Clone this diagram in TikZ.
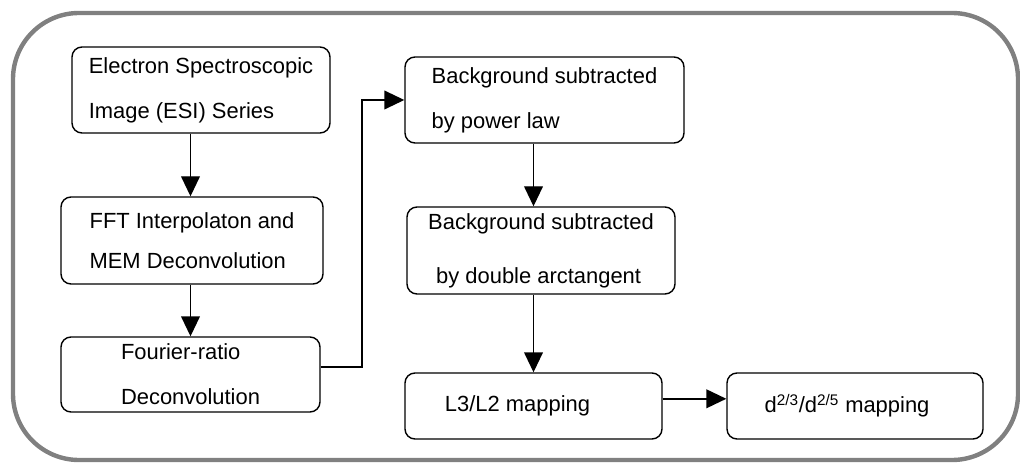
\documentclass[tikz,border=0pt]{standalone}
\usepackage{fontspec}
\setmainfont{Liberation Sans}
\usetikzlibrary{arrows.meta}

\begin{document}
\begin{tikzpicture}[
        box/.style={draw, line width=1pt, rounded corners=0.25cm, align=left,
            font={\fontsize{15.6}{32}\selectfont}},
        arr/.style={line width=1pt, -{Triangle[length=0.5cm,width=0.47cm]}}]
            \useasboundingbox (0,0) rectangle (25.5,11.575);
            \draw[line width=0.11cm, gray, rounded corners=1.65cm] (0.325,0.075) rectangle (25.45,11.25);

            % left column
            \node[box, minimum width=6.45cm, minimum height=2.15cm] (esi) at (5.025,9.325)
                {Electron Spectroscopic\\Image (ESI) Series};
            \node[box, minimum width=6.55cm, minimum height=2.175cm] (fft) at (4.8,5.5625)
                {FFT Interpolaton and\\[-0.12cm]MEM Deconvolution};
            \node[box, minimum width=6.475cm, minimum height=1.875cm] (fourier) at (4.7625,2.2125)
                {Fourier-ratio\\Deconvolution};

            % right column
            \node[box, minimum width=6.975cm, minimum height=2.15cm] (bgpow) at (13.6125,9.075)
                {Background subtracted\\by power law};
            \node[box, minimum width=6.7cm, minimum height=2.175cm] (bgarc) at (13.525,5.3125)
                {Background subtracted\\[0.22cm]\hspace*{0.2cm}by double arctangent};
            \node[box, minimum width=6.425cm, minimum height=1.65cm] (lmap) at (13.3375,1.425)
                {L3/L2 mapping\hspace*{0.8cm}};
            \node[box, minimum width=6.4cm, minimum height=1.65cm] (dmap) at (21.375,1.425)
                {d\textsuperscript{2/3}/d\textsuperscript{2/5} mapping\hspace*{0.4cm}};

            \coordinate (turn) at (9.05,9.075);

            \draw[arr] (esi.south -| fourier.north) -- (fft.north -| fourier.north);
            \draw[arr] (fft.south -| fourier.north) -- (fourier.north);
            \draw[arr] ([yshift=0.19cm]fourier.east) -| (turn) -- (bgpow.west);
            \draw[arr] (bgpow.south -| lmap.north) -- (bgarc.north -| lmap.north);
            \draw[arr] (bgarc.south -| lmap.north) -- (lmap.north);
            \draw[arr] ([yshift=0.18cm]lmap.east) -- ([yshift=0.18cm]lmap.east -| dmap.west);
        \end{tikzpicture}
\end{document}
